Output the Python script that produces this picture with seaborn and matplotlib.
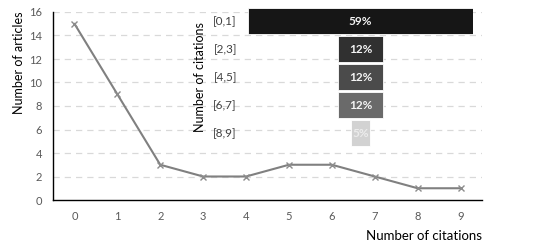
import matplotlib
matplotlib.use("Agg")
import matplotlib.pyplot as plt
import seaborn as sns
import pandas as pd

# ---- data ----
citations = [0, 1, 2, 3, 4, 5, 6, 7, 8, 9]
articles = [15, 9, 3, 2, 2, 3, 3, 2, 1, 1]

bins = ["[0,1]", "[2,3]", "[4,5]", "[6,7]", "[8,9]"]
shares = [59, 12, 12, 12, 5]
bin_colors = ["#161616", "#303030", "#4b4b4b", "#6a6a6a", "#d2d2d2"]

TXT = "#595959"

sns.set_theme(style="white")
plt.rcParams["font.family"] = ["Lato", "DejaVu Sans"]

fig = plt.figure(figsize=(5.5, 2.49), dpi=100)

# ---- main line chart ----
ax = fig.add_axes([53 / 550, 1 - 200 / 249, 429 / 550, 188 / 249])
df = pd.DataFrame({"citations": citations, "articles": articles})
sns.lineplot(data=df, x="citations", y="articles", ax=ax, color="#808080",
             linewidth=1.5, marker="x", markersize=5, markeredgewidth=1.0,
             markeredgecolor="#8c8c8c")
ax.set_xlim(-0.5, 9.5)
ax.set_ylim(0, 16)
ax.set_xticks(citations)
ax.set_yticks(range(0, 17, 2))
for yv in range(2, 17, 2):
    ax.axhline(yv, color="#d9d9d9", lw=0.9, ls=(0, (5, 4)), zorder=0)
for s in ["top", "right"]:
    ax.spines[s].set_visible(False)
for s in ["left", "bottom"]:
    ax.spines[s].set_color("black")
    ax.spines[s].set_linewidth(1.0)
ax.tick_params(axis="both", length=0, labelsize=8, colors=TXT)
ax.tick_params(axis="x", pad=8)
ax.tick_params(axis="y", pad=8)
ax.set_xlabel("Number of citations", fontsize=9.5, color="black", loc="right",
              labelpad=6)
ax.set_ylabel("Number of articles", fontsize=9, color="black", loc="top",
              labelpad=3)

# ---- funnel inset ----
ins = fig.add_axes([248 / 550, 1 - 147 / 249, 225 / 550, 140 / 249])
ypos = list(range(len(bins)))
ins.barh(ypos, shares, left=[-v / 2 for v in shares], height=0.94,
         color=bin_colors, edgecolor="white", linewidth=0.6)
for y, v, c in zip(ypos, shares, bin_colors):
    ins.text(0, y, f"{v}%", ha="center", va="center", fontsize=8.5,
             fontweight="bold", color="#f4f4f4" if v > 5 else "#ececec")
ins.set_xlim(-29.5, 29.5)
ins.set_ylim(len(bins) - 0.5, -0.5)
ins.set_yticks(ypos)
ins.set_yticklabels(bins)
ins.set_xticks([])
ins.patch.set_alpha(0)
for s in ins.spines.values():
    s.set_visible(False)
ins.tick_params(axis="y", length=0, labelsize=8.5, colors="#404040", pad=8)
ins.set_ylabel("Number of citations", fontsize=9, color="black", labelpad=5)

fig.savefig("out.png", dpi=100)
